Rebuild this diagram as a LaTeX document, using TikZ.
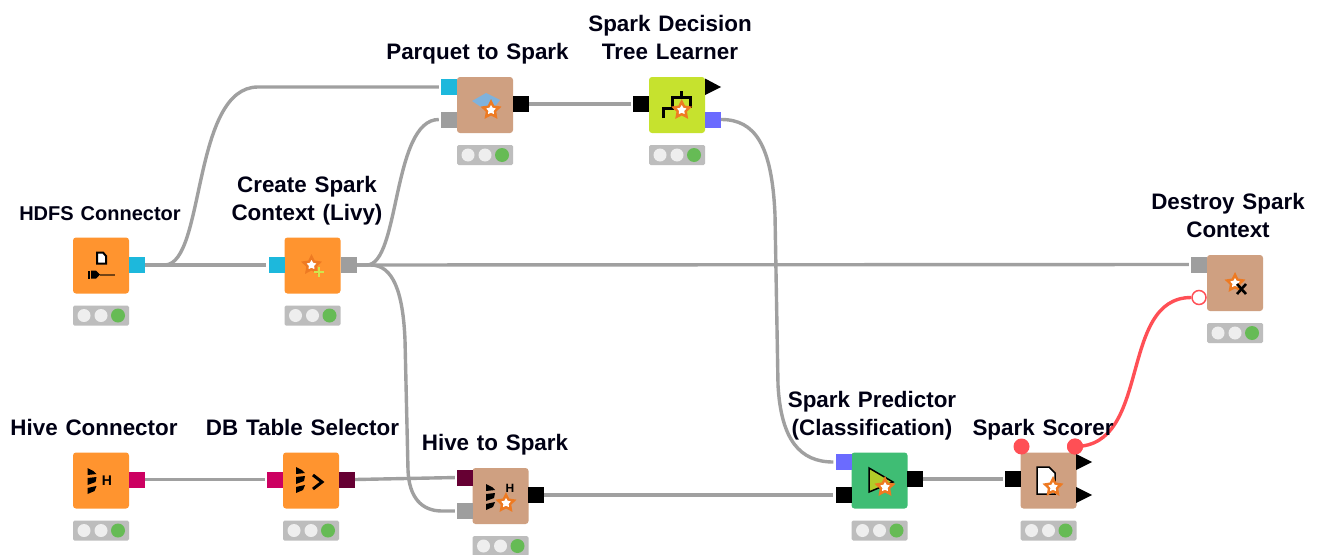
\documentclass[tikz,border=0pt]{standalone}
\usepackage{fontspec}
\setmainfont{Liberation Sans}[WordSpace=1.25]
\definecolor{korange}{HTML}{FF942F}
\definecolor{ktan}{HTML}{CFA081}
\definecolor{klime}{HTML}{C6E22E}
\definecolor{kgreen}{HTML}{3FBD74}
\definecolor{kcyan}{HTML}{1DB8DC}
\definecolor{kgrey}{HTML}{9E9E9E}
\definecolor{kblue}{HTML}{6B6BFF}
\definecolor{kmag}{HTML}{CC0061}
\definecolor{kdark}{HTML}{660033}
\definecolor{kline}{HTML}{A0A0A0}
\definecolor{kred}{HTML}{FF4F55}
\definecolor{kstat}{HTML}{BDBDBD}
\definecolor{klight}{HTML}{EEEEEE}
\definecolor{kok}{HTML}{66BB55}
\definecolor{kstar}{HTML}{EE7A22}
\definecolor{kparq}{HTML}{7FB2DC}
\tikzset{
  knode/.style={rectangle,rounded corners=3pt,minimum size=56pt,inner sep=0pt,fill=#1},
  kport/.style={rectangle,minimum size=16pt,inner sep=0pt,fill=#1},
  klabel/.style={font=\fontsize{22.4}{27.5}\selectfont\bfseries,align=center,inner sep=0pt,text=black!92!blue},
  wire/.style={draw=kline,line width=3.4pt},
  redwire/.style={draw=kred,line width=3.4pt},
  kicontext/.style={font=\bfseries\fontsize{#1}{#1}\selectfont,inner sep=0pt,text=black},
  status/.pic={
    \fill[kstat,rounded corners=1.5pt] (-28,68) rectangle (28,88);
    \fill[klight] (-17,78) circle (6.5);
    \fill[klight] (0,78) circle (6.5);
    \fill[kok] (17,78) circle (7);
  },
  sstar/.pic={
    \fill[kstar] (-90:11) -- (-54:5.5) -- (-18:11) -- (18:5.5) -- (54:11) -- (90:5.5) -- (126:11) -- (162:5.5) -- (198:11) -- (234:5.5) -- cycle;
    \fill[white] (-90:5) -- (-54:2.8) -- (-18:5) -- (18:2.8) -- (54:5) -- (90:2.8) -- (126:5) -- (162:2.8) -- (198:5) -- (234:2.8) -- cycle;
  },
  bee/.pic={
    \fill[black] (0,0) -- (6,3) -- (9,6) -- (0,7) -- cycle;
    \fill[black] (0,10) -- (9,9) -- (8,14) -- (0,17) -- cycle;
    \fill[black] (0,20) -- (9,18) -- (7,23) -- (0,26) -- cycle;
  },
}
\newcommand{\knode}[4]{%
  \node[knode=#4] (#1) at (#2,#3) {};
  \pic at (#2,#3-28) {status};
}
\begin{document}
\begin{tikzpicture}[x=1pt,y=-1pt]
\useasboundingbox[fill=white] (0,0) rectangle (1321,554);

% nodes
\knode{hdfs}{101}{265.5}{korange}
\knode{create}{312.5}{265.5}{korange}
\knode{parquet}{485}{105}{ktan}
\knode{tree}{677}{105}{klime}
\knode{hive}{101}{480.5}{korange}
\knode{dbsel}{311}{480.5}{korange}
\knode{hivespark}{500.5}{496}{ktan}
\knode{predict}{879.5}{480.5}{kgreen}
\knode{scorer}{1048.5}{480.5}{ktan}
\knode{destroy}{1235}{283}{ktan}

% ports
\node[kport=kcyan] (hdfsout) at (137,265) {};
\node[kport=kcyan] (createin) at (276.5,265) {};
\node[kport=kgrey] (createout) at (348.5,265) {};
\node[kport=kcyan] (parqa) at (449,87) {};
\node[kport=kgrey] (parqb) at (449,119.5) {};
\node[kport=black] (parqout) at (521,104) {};
\node[kport=black] (treein) at (641,104) {};
\node[kport=kblue] (treeout) at (713,119.5) {};
\node[kport=kmag] (hiveout) at (137,479.5) {};
\node[kport=kmag] (dbin) at (275,479.5) {};
\node[kport=kdark] (dbout) at (347,479.5) {};
\node[kport=kdark] (hsa) at (465,477.5) {};
\node[kport=kgrey] (hsb) at (465,511) {};
\node[kport=black] (hsout) at (536,495) {};
\node[kport=kblue] (prda) at (843.5,462) {};
\node[kport=black] (prdb) at (843.5,495) {};
\node[kport=black] (prdout) at (915,479) {};
\node[kport=black] (scin) at (1013,479) {};
\node[kport=kgrey] (dsin) at (1199,264.5) {};
\node[circle,fill=kred,minimum size=16pt,inner sep=0pt] (scva) at (1021.5,446.5) {};
\node[circle,fill=kred,minimum size=16pt,inner sep=0pt] (scvb) at (1075,446.5) {};
\node[circle,fill=white,draw=kred,line width=1.5pt,minimum size=14pt,inner sep=0pt] (dsvar) at (1199,297.5) {};

% triangular outputs
\fill[black] (705,78.5) -- (721,87) -- (705,95) -- cycle;
\fill[black] (1076,454) -- (1092,462) -- (1076,470) -- cycle;
\fill[black] (1076,487) -- (1092,495) -- (1076,503) -- cycle;

% connectors
\draw[wire,shorten >=2pt] (hdfsout.east) -- (createin.west);
\draw[wire,shorten >=2pt] (hdfsout.east) -- +(20,0) .. controls +(40,-2) and (192,87) .. (258,87) -- (parqa.west);
\draw[wire,shorten >=2pt] (createout.east) -- (dsin.west);
\draw[wire,shorten >=2pt] (createout.east) -- +(10,0) .. controls (400,265) and (392,119.5) .. (parqb.west);
\draw[wire,shorten >=2pt] (createout.east) -- +(14,0) .. controls (393,265) and (403,292) .. (405,340) -- (408,470) .. controls (409,498) and (422,511) .. (442,511) -- (hsb.west);
\draw[wire,shorten >=2pt] (parqout.east) -- (treein.west);
\draw[wire,shorten >=2pt] (treeout.east) .. controls (755,119.5) and (772,145) .. (775,215) -- (778,385) .. controls (781,440) and (800,462) .. (prda.west);
\draw[wire,shorten >=2pt] (hiveout.east) -- (dbin.west);
\draw[wire,shorten >=2pt] (dbout.east) -- (hsa.west);
\draw[wire,shorten >=2pt] (hsout.east) -- (prdb.west);
\draw[wire,shorten >=2pt] (prdout.east) -- (scin.west);
\draw[redwire] (scvb.center) .. controls (1152,446.5) and (1118,297.5) .. (dsvar.west);
% keep the port marks over the wires
\fill[kred] (1075,446.5) circle (8);

% icons
\filldraw[fill=white,draw=black,line width=2pt] (97,252.5) -- (103,252.5) -- (106,256) -- (106,263.5) -- (97,263.5) -- cycle;
\fill[black] (88,271) rectangle (90,279);
\fill[black] (91,270.5) -- (96,270.5) -- (100,274.5) -- (96,278.5) -- (91,278.5) -- cycle;
\draw[black!55!korange,line width=2pt] (100,274.5) -- (115,274.5);
\pic at (311.5,265) {sstar};
\draw[klime!85!white,line width=2.4pt] (314,272) -- (324,272) (319,267) -- (319,277);

\fill[kparq] (472,101) -- (486,93) -- (500,100) -- (490,113) -- cycle;
\pic at (491,110) {sstar};

\draw[black,line width=3pt] (663.3,118) -- (663.3,108.3) -- (672.7,108.3) -- (672.7,97.7) -- (690,97.7) -- (690,108) (681.7,97.7) -- (681.7,90.7);
\pic at (681.7,110) {sstar};

\pic at (87.5,468) {bee};
\node[kicontext=14] (hiveh) at (107,481) {H};

\pic at (296,467) {bee};
\draw[black,line width=3pt] (313,475) -- (322,482) -- (313,489);

\pic at (486,484) {bee};
\node[kicontext=12] (hsh) at (510,488.5) {H};
\pic at (506,503) {sstar};

\filldraw[fill=klime!90!black,draw=black,line width=1.5pt] (869,468) -- (893,482) -- (869,492) -- cycle;
\pic at (885,487) {sstar};

\filldraw[fill=white,draw=black,line width=1.5pt] (1037,467) -- (1049,467) -- (1055,473) -- (1055,494) -- (1037,494) -- cycle;
\pic at (1053,487) {sstar};

\pic at (1235,283) {sstar};
\draw[black,line width=2.6pt] (1237,284) -- (1246,294) (1246,284) -- (1237,294);

% labels
\node[klabel,anchor=base,font=\fontsize{20}{27.5}\selectfont\bfseries] (lhdfs) at (100,220) {HDFS Connector};
\node[klabel,anchor=base] (lcreate) at (307,220) {Create Spark\\Context (Livy)};
\node[klabel,anchor=base] (lparq) at (477.5,59) {Parquet to Spark};
\node[klabel,anchor=base] (ltree) at (670,59) {Spark Decision\\Tree Learner};
\node[klabel,anchor=base] (lhive) at (94,435) {Hive Connector};
\node[klabel,anchor=base] (ldb) at (302.5,435) {DB Table Selector};
\node[klabel,anchor=base] (lhs) at (495,450) {Hive to Spark};
\node[klabel,anchor=base] (lpred) at (872,435) {Spark Predictor\\(Classification)};
\node[klabel,anchor=base] (lsc) at (1043,435) {Spark Scorer};
\node[klabel,anchor=base] (lds) at (1228,237) {Destroy Spark\\Context};
\end{tikzpicture}
\end{document}
